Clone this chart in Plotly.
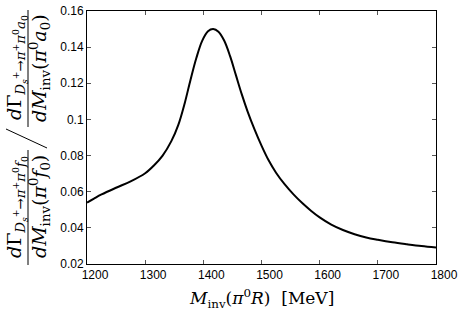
import plotly.graph_objects as go

# Data
m_inv = [1200, 1212, 1225, 1250, 1275, 1300, 1315, 1330, 1345, 1357, 1368, 1378,
         1388, 1398, 1408, 1417, 1426, 1436, 1446, 1456, 1466, 1476, 1488, 1500,
         1512, 1525, 1540, 1555, 1570, 1585, 1600, 1620, 1640, 1660, 1680, 1700,
         1725, 1750, 1775, 1800]
ratio = [0.0540, 0.0562, 0.0585, 0.0622, 0.0657, 0.0702, 0.0745, 0.0800, 0.0880,
         0.0970, 0.1090, 0.1220, 0.1340, 0.1435, 0.1488, 0.1500, 0.1485, 0.1435,
         0.1350, 0.1245, 0.1140, 0.1045, 0.0945, 0.0855, 0.0775, 0.0705, 0.0640,
         0.0585, 0.0537, 0.0495, 0.0458, 0.0418, 0.0388, 0.0365, 0.0347, 0.0334,
         0.0320, 0.0309, 0.0299, 0.0291]

x_ticks = [1200, 1300, 1400, 1500, 1600, 1700, 1800]
y_ticks = [0.02, 0.04, 0.06, 0.08, 0.10, 0.12, 0.14, 0.16]
y_tick_text = ["0.02", "0.04", "0.06", "0.08", "0.1", "0.12", "0.14", "0.16"]

W, H = 463, 318
L, R, T, B = 87, 27, 11, 54
PW, PH = W - L - R, H - T - B


def px(xp):
    return (xp - L) / PW


def py(yp):
    return (H - B - yp) / PH


fig = go.Figure()
fig.add_trace(go.Scatter(x=m_inv, y=ratio, mode="lines",
                         line=dict(color="black", width=2, shape="spline", smoothing=1.0),
                         showlegend=False, hoverinfo="skip"))

axis_common = dict(showline=True, mirror="allticks", linecolor="black", linewidth=1,
                   ticks="inside", ticklen=4, tickcolor="#555", tickwidth=1,
                   showgrid=False, zeroline=False, automargin=False,
                   tickfont=dict(family="Liberation Sans, Arial, sans-serif", size=12, color="black"))

fig.update_xaxes(range=[1200, 1800], tickvals=x_ticks, ticklabelshift=8, **axis_common)
fig.update_yaxes(range=[0.02, 0.16], tickvals=y_ticks, ticktext=y_tick_text, **axis_common)

serif = "DejaVu Serif, Liberation Serif, serif"
ann = []
ann.append(dict(text="<i>M</i><sub>inv</sub>(<i>π</i><sup>0</sup><i>R</i>)  [MeV]",
                x=0.5, y=py(298), xref="paper", yref="paper", showarrow=False,
                xanchor="center", yanchor="middle",
                font=dict(family=serif, size=17, color="black")))

num_f0 = "<i>d</i>Γ<sub><i>D</i><sub><i>s</i></sub><sup>+</sup>→<i>π</i><sup>+</sup><i>π</i><sup>0</sup><i>f</i><sub>0</sub></sub>"
den_f0 = "<i>dM</i><sub>inv</sub>(<i>π</i><sup>0</sup><i>f</i><sub>0</sub>)"
num_a0 = "<i>d</i>Γ<sub><i>D</i><sub><i>s</i></sub><sup>+</sup>→<i>π</i><sup>+</sup><i>π</i><sup>0</sup><i>a</i><sub>0</sub></sub>"
den_a0 = "<i>dM</i><sub>inv</sub>(<i>π</i><sup>0</sup><i>a</i><sub>0</sub>)"

for txt, xp, yp in [(num_f0, 16, 207), (den_f0, 39, 207),
                    (num_a0, 16, 68), (den_a0, 39, 68)]:
    ann.append(dict(text=txt, x=px(xp), y=py(yp), xref="paper", yref="paper",
                    showarrow=False, textangle=-90, xanchor="center", yanchor="middle",
                    font=dict(family=serif, size=19, color="black")))

shapes = [
    dict(type="line", xref="paper", yref="paper", x0=px(28), x1=px(28), y0=py(150), y1=py(265),
         line=dict(color="black", width=1)),
    dict(type="line", xref="paper", yref="paper", x0=px(28), x1=px(28), y0=py(10), y1=py(127),
         line=dict(color="black", width=1)),
    dict(type="line", xref="paper", yref="paper", x0=px(6), x1=px(47), y0=py(129), y1=py(148),
         line=dict(color="black", width=1)),
]

fig.update_layout(width=W, height=H, margin=dict(l=L, r=R, t=T, b=B, autoexpand=False),
                  paper_bgcolor="white", plot_bgcolor="white",
                  annotations=ann, shapes=shapes)

fig.write_html("out.html", config={"displayModeBar": False},
               post_script="document.body.style.margin='0';document.body.style.padding='0';")
